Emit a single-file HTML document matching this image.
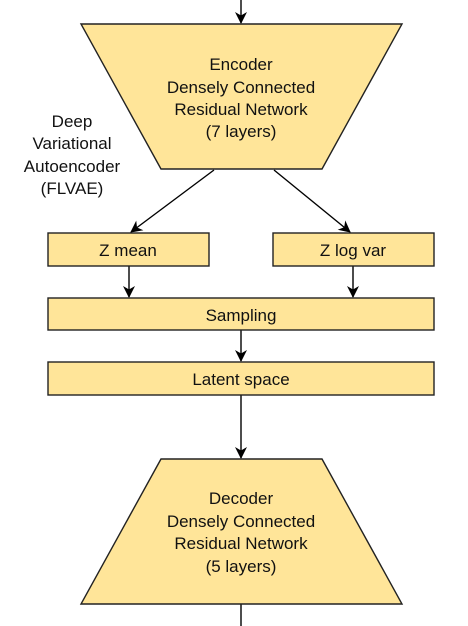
<!DOCTYPE html>
<html><head><style>body{margin:0;background:#fff}svg{display:block}text{font-family:"Liberation Sans",Arial,sans-serif;font-size:17px;fill:#111}</style></head>
<body>
<svg width="468" height="626" viewBox="0 0 468 626">
<defs><marker id="a" markerWidth="12" markerHeight="12" refX="11" refY="6" orient="auto" markerUnits="userSpaceOnUse"><path d="M0,0 L12,6 L0,12 L3.5,6 Z" fill="#000"/></marker></defs>
<g stroke="#000" stroke-width="1.4" fill="none">
<line x1="241" y1="0" x2="241" y2="23" marker-end="url(#a)"/>
<line x1="214" y1="170" x2="131" y2="232" marker-end="url(#a)"/>
<line x1="274" y1="170" x2="350" y2="232" marker-end="url(#a)"/>
<line x1="129" y1="266" x2="129" y2="297" marker-end="url(#a)"/>
<line x1="353" y1="266" x2="353" y2="297" marker-end="url(#a)"/>
<line x1="241" y1="330" x2="241" y2="361" marker-end="url(#a)"/>
<line x1="241" y1="395" x2="241" y2="458" marker-end="url(#a)"/>
<line x1="241" y1="604" x2="241" y2="626"/>
</g>
<g fill="#ffe599" stroke="#222" stroke-width="1.4">
<polygon points="81,24 402,24 322,169 161,169"/>
<rect x="48" y="233" width="161" height="33"/>
<rect x="273" y="233" width="161" height="33"/>
<rect x="48" y="298" width="386" height="32"/>
<rect x="48" y="362" width="386" height="33"/>
<polygon points="161,459 322,459 402,604 81,604"/>
</g>
<g text-anchor="middle">
<text x="241" y="70">Encoder</text>
<text x="241" y="93">Densely Connected</text>
<text x="241" y="115">Residual Network</text>
<text x="241" y="137">(7 layers)</text>
<text x="72" y="127">Deep</text>
<text x="72" y="149">Variational</text>
<text x="72" y="172">Autoencoder</text>
<text x="72" y="194">(FLVAE)</text>
<text x="128" y="256">Z mean</text>
<text x="353" y="256">Z log var</text>
<text x="241" y="321">Sampling</text>
<text x="241" y="385">Latent space</text>
<text x="241" y="504">Decoder</text>
<text x="241" y="527">Densely Connected</text>
<text x="241" y="549">Residual Network</text>
<text x="241" y="572">(5 layers)</text>
</g>
</svg>
</body></html>
